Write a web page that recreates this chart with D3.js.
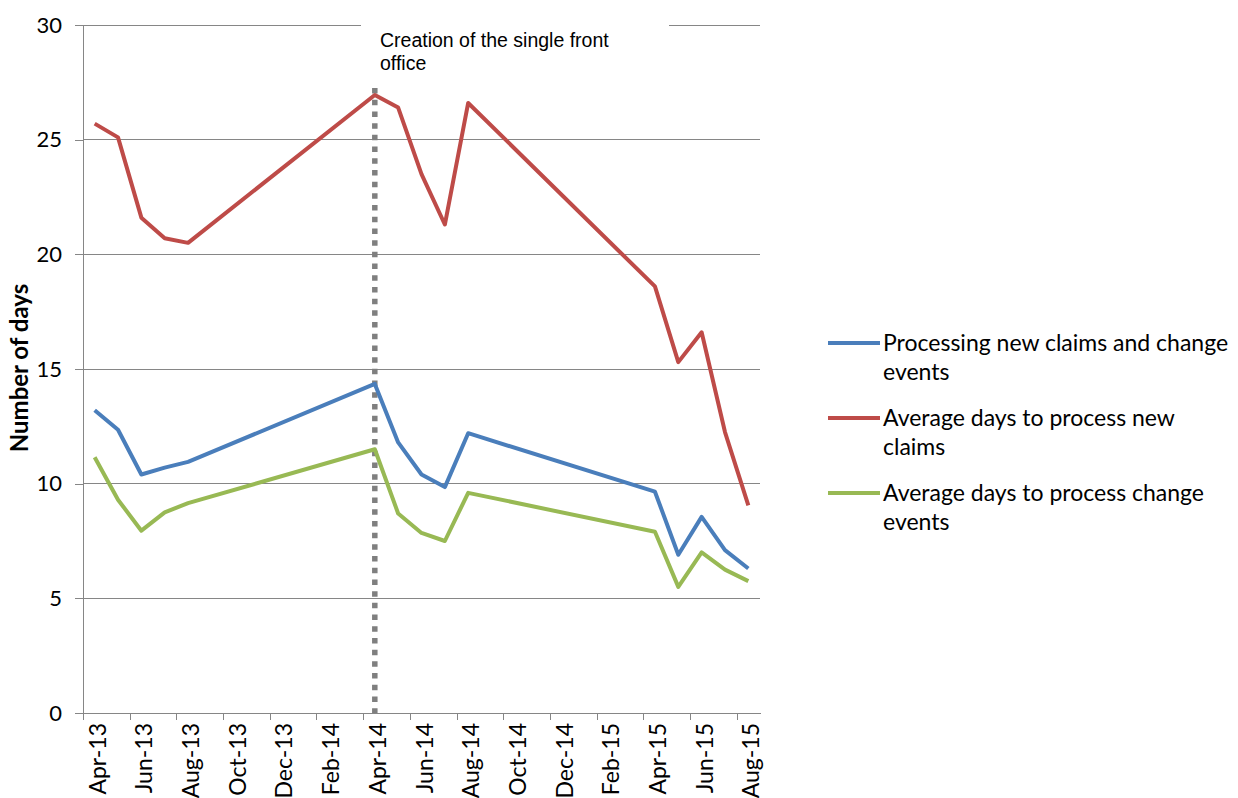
<!DOCTYPE html>
<html>
<head>
<meta charset="utf-8">
<script src="https://cdn.jsdelivr.net/npm/d3@7"></script>
<style>
  body { margin: 0; background: #fff; }
  svg text { fill: #000; }
</style>
</head>
<body>
<div id="chart"></div>
<script>
// month categories of the x axis
var months = ["Apr-13","May-13","Jun-13","Jul-13","Aug-13","Sep-13","Oct-13","Nov-13","Dec-13",
  "Jan-14","Feb-14","Mar-14","Apr-14","May-14","Jun-14","Jul-14","Aug-14","Sep-14","Oct-14",
  "Nov-14","Dec-14","Jan-15","Feb-15","Mar-15","Apr-15","May-15","Jun-15","Jul-15","Aug-15"];

// labels shown on the x axis (every second month)
var monthLabels = ["Apr-13","Jun-13","Aug-13","Oct-13","Dec-13","Feb-14","Apr-14","Jun-14",
  "Aug-14","Oct-14","Dec-14","Feb-15","Apr-15","Jun-15","Aug-15"];

// series values (null = no data, line joins across the gap)
var processingAll = [13.2,12.35,10.4,10.7,10.95,null,null,null,null,null,null,null,14.35,11.8,10.4,9.85,12.2,
  null,null,null,null,null,null,null,9.65,6.9,8.55,7.1,6.3];
var newClaims = [25.7,25.1,21.6,20.7,20.5,null,null,null,null,null,null,null,26.95,26.4,23.5,21.3,26.6,
  null,null,null,null,null,null,null,18.6,15.3,16.6,12.25,9.05];
var changeEvents = [11.15,9.3,7.95,8.75,9.15,null,null,null,null,null,null,null,11.5,8.7,7.85,7.5,9.6,
  null,null,null,null,null,null,null,7.9,5.5,7.0,6.25,5.75];

var seriesNames = [["Processing new claims and change", "events"],
                   ["Average days to process new", "claims"],
                   ["Average days to process change", "events"]];
var seriesColors = ["#4a7ebb", "#be4b48", "#98b954"];
var seriesData = [processingAll, newClaims, changeEvents];

var yTicks = [0, 5, 10, 15, 20, 25, 30];

// event marker
var eventMonth = "Apr-14";
var eventTop = 27.25;
var eventText = ["Creation of the single front", "office"];

var W = 1238, H = 798;
var margin = {top: 25, right: 478, bottom: 85, left: 83};
var width = W - margin.left - margin.right,
    height = H - margin.top - margin.bottom;

var svg = d3.select("#chart").append("svg")
    .attr("width", W)
    .attr("height", H);

var x = d3.scaleBand().domain(months).range([margin.left, margin.left + width]);
var y = d3.scaleLinear().domain([0, 30]).range([margin.top + height, margin.top]);

var grey = "#868686";

// gridlines
svg.append("g").selectAll("line")
    .data(yTicks.filter(function(d) { return d > 0; }))
    .enter().append("line")
    .attr("x1", margin.left).attr("x2", margin.left + width)
    .attr("y1", function(d) { return y(d); })
    .attr("y2", function(d) { return y(d); })
    .attr("stroke", grey).attr("stroke-width", 1)
    .attr("shape-rendering", "crispEdges");

// white box behind the annotation
svg.append("rect")
    .attr("x", 361).attr("y", 16)
    .attr("width", 308).attr("height", 62)
    .attr("fill", "#fff");

// y axis
var yAxis = svg.append("g")
    .attr("transform", "translate(" + margin.left + ",0)")
    .call(d3.axisLeft(y).tickValues(yTicks).tickSize(8).tickPadding(13));
yAxis.select(".domain").attr("stroke", grey).attr("shape-rendering", "crispEdges");
yAxis.selectAll(".tick line").attr("stroke", grey).attr("shape-rendering", "crispEdges");
yAxis.selectAll("text")
    .attr("font-family", "Lato, sans-serif")
    .attr("font-size", 22)
    .attr("fill", "#000");

// x axis
var xAxis = svg.append("g")
    .attr("transform", "translate(0," + (margin.top + height) + ")")
    .call(d3.axisBottom(x).tickValues(monthLabels).tickSize(0).tickPadding(0));
xAxis.select(".domain").attr("stroke", grey).attr("shape-rendering", "crispEdges");
xAxis.selectAll(".tick text")
    .attr("font-family", "Lato, sans-serif")
    .attr("font-size", 23)
    .attr("fill", "#000")
    .attr("text-anchor", "end")
    .attr("transform", "translate(3,10) rotate(-90)")
    .attr("x", 0).attr("y", 0)
    .attr("dy", "0.35em");

// tick marks at the band boundaries
svg.append("g").selectAll("line")
    .data(monthLabels)
    .enter().append("line")
    .attr("x1", function(d) { return Math.round(x(d)) + 0.5; })
    .attr("x2", function(d) { return Math.round(x(d)) + 0.5; })
    .attr("y1", margin.top + height)
    .attr("y2", margin.top + height + 7)
    .attr("stroke", grey);

// y axis title
svg.append("text")
    .attr("transform", "translate(28,368) rotate(-90)")
    .attr("text-anchor", "middle")
    .attr("font-family", "Lato, sans-serif")
    .attr("font-weight", "bold")
    .attr("font-size", 24)
    .text("Number of days");

// event marker line
svg.append("line")
    .attr("x1", x(eventMonth) + x.bandwidth() / 2)
    .attr("x2", x(eventMonth) + x.bandwidth() / 2)
    .attr("y1", y(eventTop))
    .attr("y2", y(0))
    .attr("stroke", "#7f7f7f")
    .attr("stroke-width", 5.5)
    .attr("stroke-dasharray", "5.5,6.2");

// annotation text
svg.append("g").selectAll("text")
    .data(eventText)
    .enter().append("text")
    .attr("x", 380)
    .attr("y", function(d, i) { return 47 + i * 23; })
    .attr("font-family", "'Liberation Sans', Arial, sans-serif")
    .attr("font-size", 19.5)
    .attr("fill", "#1a1a1a")
    .text(function(d) { return d; });

// lines
var line = d3.line()
    .x(function(d) { return x(d.m) + x.bandwidth() / 2; })
    .y(function(d) { return y(d.v); });

seriesData.forEach(function(vals, i) {
  var pts = months.map(function(m, j) { return {m: m, v: vals[j]}; })
      .filter(function(d) { return d.v !== null; });
  svg.append("path")
      .datum(pts)
      .attr("d", line)
      .attr("fill", "none")
      .attr("stroke", seriesColors[i])
      .attr("stroke-width", 4)
      .attr("stroke-linejoin", "round");
});

// legend
var legend = svg.append("g").selectAll("g")
    .data(seriesNames)
    .enter().append("g")
    .attr("transform", function(d, i) { return "translate(828," + (343 + i * 75) + ")"; });
legend.append("line")
    .attr("x1", 0).attr("x2", 52)
    .attr("stroke", function(d, i) { return seriesColors[i]; })
    .attr("stroke-width", 4);
legend.each(function(d) {
  d3.select(this).selectAll("text")
    .data(d)
    .enter().append("text")
    .attr("x", 55)
    .attr("y", function(t, j) { return j * 29; })
    .attr("dy", "0.35em")
    .attr("font-family", "Lato, sans-serif")
    .attr("font-size", 23)
    .text(function(t) { return t; });
});
</script>
</body>
</html>
